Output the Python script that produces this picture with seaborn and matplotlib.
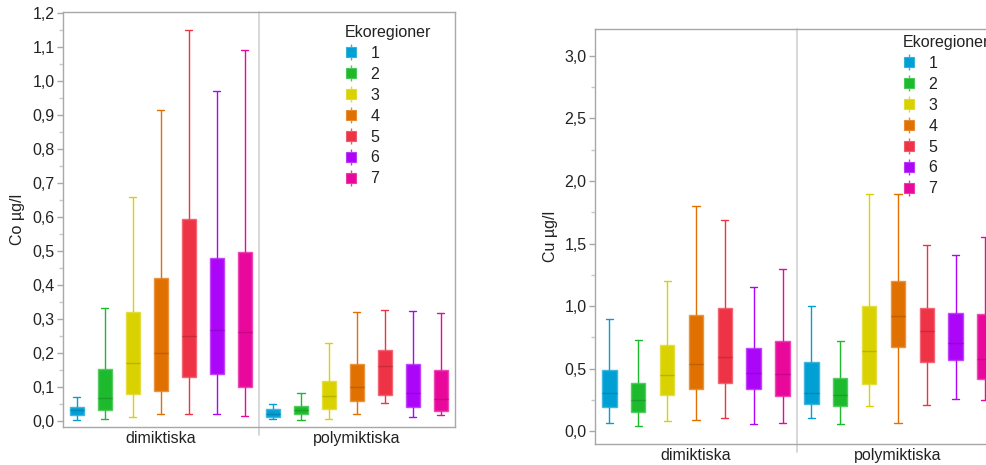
import numpy as np
import pandas as pd
import matplotlib
matplotlib.use("Agg")
import matplotlib.pyplot as plt
import seaborn as sns
from matplotlib.lines import Line2D
from matplotlib.legend_handler import HandlerTuple
from matplotlib.ticker import FuncFormatter, MultipleLocator
import matplotlib.colors as mcolors

# ---------------- data ----------------
groups = ["dimiktiska", "polymiktiska"]
regions = ["1", "2", "3", "4", "5", "6", "7"]
colors = ["#009FD4", "#1EBA2E", "#D9D200", "#E07000", "#EE3346", "#AC06F8", "#E8089C"]

# Co µg/l  (whisker low, Q1, median, Q3, whisker high) per ecoregion
co_dim_lo = [0.002, 0.005, 0.011, 0.021, 0.021, 0.021, 0.014]
co_dim_q1 = [0.017, 0.031, 0.078, 0.089, 0.128, 0.139, 0.099]
co_dim_med = [0.031, 0.067, 0.170, 0.199, 0.249, 0.267, 0.262]
co_dim_q3 = [0.040, 0.153, 0.321, 0.421, 0.595, 0.479, 0.497]
co_dim_hi = [0.071, 0.332, 0.660, 0.915, 1.150, 0.972, 1.091]
co_pol_lo = [0.005, 0.002, 0.005, 0.021, 0.052, 0.011, 0.017]
co_pol_q1 = [0.010, 0.020, 0.036, 0.060, 0.077, 0.042, 0.030]
co_pol_med = [0.021, 0.031, 0.073, 0.100, 0.161, 0.081, 0.064]
co_pol_q3 = [0.036, 0.043, 0.117, 0.167, 0.209, 0.167, 0.149]
co_pol_hi = [0.049, 0.081, 0.228, 0.321, 0.326, 0.325, 0.318]

# Cu µg/l
cu_dim_lo = [0.064, 0.040, 0.080, 0.088, 0.104, 0.056, 0.064]
cu_dim_q1 = [0.197, 0.157, 0.288, 0.336, 0.384, 0.336, 0.280]
cu_dim_med = [0.304, 0.248, 0.448, 0.536, 0.595, 0.464, 0.456]
cu_dim_q3 = [0.488, 0.384, 0.688, 0.928, 0.987, 0.667, 0.720]
cu_dim_hi = [0.899, 0.731, 1.203, 1.798, 1.691, 1.155, 1.299]
cu_pol_lo = [0.104, 0.056, 0.200, 0.064, 0.208, 0.256, 0.248]
cu_pol_q1 = [0.221, 0.205, 0.376, 0.672, 0.552, 0.568, 0.421]
cu_pol_med = [0.304, 0.288, 0.640, 0.923, 0.800, 0.704, 0.576]
cu_pol_q3 = [0.552, 0.427, 1.003, 1.203, 0.987, 0.949, 0.939]
cu_pol_hi = [1.003, 0.723, 1.896, 1.896, 1.485, 1.405, 1.549]


def build_frame(dim_stats, pol_stats):
    rows = []
    for grp, stats in zip(groups, [dim_stats, pol_stats]):
        for i, reg in enumerate(regions):
            for s in stats:
                rows.append({"typ": grp, "region": reg, "val": s[i]})
    return pd.DataFrame(rows)


co_df = build_frame([co_dim_lo, co_dim_q1, co_dim_med, co_dim_q3, co_dim_hi],
                    [co_pol_lo, co_pol_q1, co_pol_med, co_pol_q3, co_pol_hi])
cu_df = build_frame([cu_dim_lo, cu_dim_q1, cu_dim_med, cu_dim_q3, cu_dim_hi],
                    [cu_pol_lo, cu_pol_q1, cu_pol_med, cu_pol_q3, cu_pol_hi])

# ---------------- style ----------------
sns.set_theme(style="white")
plt.rcParams["font.family"] = ["Liberation Sans", "DejaVu Sans"]
TXT = "#222222"
SPINE = "#A8A8A8"
FS = 11.5

fig = plt.figure(figsize=(9.87, 4.65), dpi=100)
ax1 = fig.add_axes([63 / 987, 1 - 427 / 465, (455 - 63) / 987, (427 - 12) / 465])
ax2 = fig.add_axes([595 / 987, 1 - 444 / 465, (999 - 595) / 987, (444 - 29) / 465])


def shade(c, f):
    r, g, b = mcolors.to_rgb(c)
    if f < 1:
        return (r * f, g * f, b * f)
    t = f - 1
    return (r + (1 - r) * t, g + (1 - g) * t, b + (1 - b) * t)


def draw(ax, df, ylabel, ylim, major, minor, label_pad):
    sns.boxplot(data=df, x="typ", y="val", hue="region", order=groups,
                hue_order=regions, palette=colors, width=1.0, gap=0.5,
                whis=(0, 100), saturation=1, linewidth=1.0, showfliers=False,
                legend=False, ax=ax)
    for cont, col in zip(ax.containers, colors):
        for b in cont.boxes:
            b.set_facecolor(col)
            b.set_edgecolor(shade(col, 1.25))
            b.set_linewidth(1.0)
        for ln in list(cont.whiskers) + list(cont.caps):
            ln.set_color(col)
            ln.set_linewidth(1.0)
        for ln in cont.medians:
            ln.set_color(shade(col, 0.85))
            ln.set_linewidth(1.0)
    ax.set_xlim(-0.5, 1.5)
    ax.set_ylim(*ylim)
    ax.axvline(0.5, ymin=-0.02, ymax=1, color="#D4D4D4", lw=1.3, clip_on=False, zorder=0)
    for sp in ax.spines.values():
        sp.set_color(SPINE)
        sp.set_linewidth(1.0)
    ax.yaxis.set_major_locator(MultipleLocator(major))
    ax.yaxis.set_minor_locator(MultipleLocator(minor))
    ax.yaxis.set_major_formatter(FuncFormatter(lambda v, p: f"{v:.1f}".replace(".", ",")))
    ax.tick_params(axis="y", which="major", length=4, width=1, color=SPINE,
                   labelsize=FS, labelcolor=TXT, pad=2, left=True)
    ax.tick_params(axis="y", which="minor", length=3, width=1, color="#C8C8C8", left=True)
    ax.set_xticks([0, 1])
    ax.set_xticklabels(groups)
    ax.tick_params(axis="x", length=0, labelsize=FS, labelcolor=TXT, pad=label_pad)
    ax.set_xlabel("")
    ax.set_ylabel(ylabel, fontsize=FS, color=TXT, labelpad=5)


draw(ax1, co_df, "Co µg/l", (-0.018, 1.204), 0.1, 0.05, 3)
draw(ax2, cu_df, "Cu µg/l", (-0.101, 3.213), 0.5, 0.25, 3)


def legend_handles():
    hs = []
    for col in colors:
        v = Line2D([], [], linestyle="none", marker="|", markersize=11,
                   markeredgewidth=1.0, color=shade(col, 1.2))
        s = Line2D([], [], linestyle="none", marker="s", markersize=7,
                   markerfacecolor=col, markeredgecolor=shade(col, 1.2), markeredgewidth=0.8)
        hs.append((v, s))
    return hs


for ax, (lx, ly) in [(ax1, (345, 25)), (ax2, (903, 35))]:
    leg = ax.legend(legend_handles(), regions, title="Ekoregioner",
                    handler_map={tuple: HandlerTuple(ndivide=1)},
                    loc="upper left", bbox_to_anchor=(lx / 987, 1 - ly / 465),
                    bbox_transform=fig.transFigure, frameon=False,
                    fontsize=FS, title_fontsize=FS, handlelength=0.8,
                    handletextpad=0.8, labelspacing=0.37, borderpad=0,
                    borderaxespad=0, alignment="left")
    for t in leg.get_texts():
        t.set_color(TXT)
    leg.get_title().set_color(TXT)

fig.savefig("out.png", dpi=100)
